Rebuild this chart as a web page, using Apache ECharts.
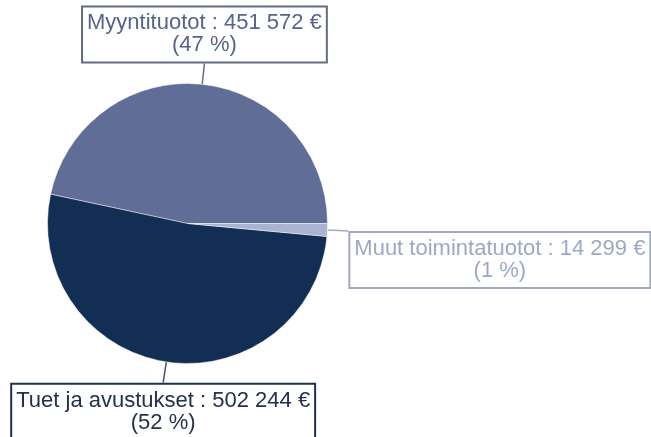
<!DOCTYPE html>
<html><head><meta charset="utf-8">
<script src="https://cdn.jsdelivr.net/npm/echarts@6/dist/echarts.min.js"></script>
<style>html,body{margin:0;padding:0;background:#fff}#c{width:651px;height:437px}</style>
</head><body><div id="c"></div>
<script>
const categories = ['Myyntituotot', 'Tuet ja avustukset', 'Muut toimintatuotot'];
const values = [451572, 502244, 14299];
const sliceColors = ['#5f6d97', '#132e55', '#aab3cf'];
const textColors = ['#56648c', '#26304c', '#9ea8c6'];
const boxBorderColors = ['#646b84', '#1e3052', '#a2a9bf'];
const lineColors = ['#666d88', '#4a5068', '#a3aac0'];
const labelSides = ['top', 'bottom', 'right'];

function fmt(n) { return String(n).replace(/\B(?=(\d{3})+(?!\d))/g, ' '); }

const chart = echarts.init(document.getElementById('c'), null, { renderer: 'canvas' });
chart.setOption({
  animation: false,
  series: [{
    type: 'pie',
    center: [187.5, 223.5],
    radius: 140,
    startAngle: 0,
    clockwise: false,
    percentPrecision: 0,
    avoidLabelOverlap: false,
    emphasis: { disabled: true },
    itemStyle: { borderColor: 'rgba(255,255,255,0.45)', borderWidth: 1 },
    label: {
      show: true, position: 'outside',
      fontFamily: 'Liberation Sans, Arial, sans-serif', fontSize: 22, lineHeight: 22,
      padding: [5, 4, 5, 4], borderWidth: 2, backgroundColor: '#fff',
      formatter: p => p.name + ' : ' + fmt(p.value) + ' €\n(' + p.percent + ' %)'
    },
    labelLine: { show: true, length: 21, length2: 0, smooth: false },
    labelLayout: function (p) {
      const pts = p.labelLinePoints;
      if (!pts) return {};
      const end = pts[pts.length - 1];
      const w = p.labelRect.width, h = p.labelRect.height;
      const side = labelSides[p.dataIndex];
      let x = end[0], y = end[1];
      if (side === 'top') { y = end[1] - h / 2; }
      else if (side === 'bottom') { y = end[1] + h / 2; }
      else { x = end[0] + w / 2; y = end[1] + h / 2; }
      return { x: x, y: y, align: 'center', verticalAlign: 'middle', labelLinePoints: pts };
    },
    data: categories.map((n, i) => ({
      name: n, value: values[i],
      itemStyle: { color: sliceColors[i] },
      label: { color: textColors[i], borderColor: boxBorderColors[i] },
      labelLine: { lineStyle: { color: lineColors[i], width: 1.5 } }
    }))
  }]
});
</script>
</body></html>
